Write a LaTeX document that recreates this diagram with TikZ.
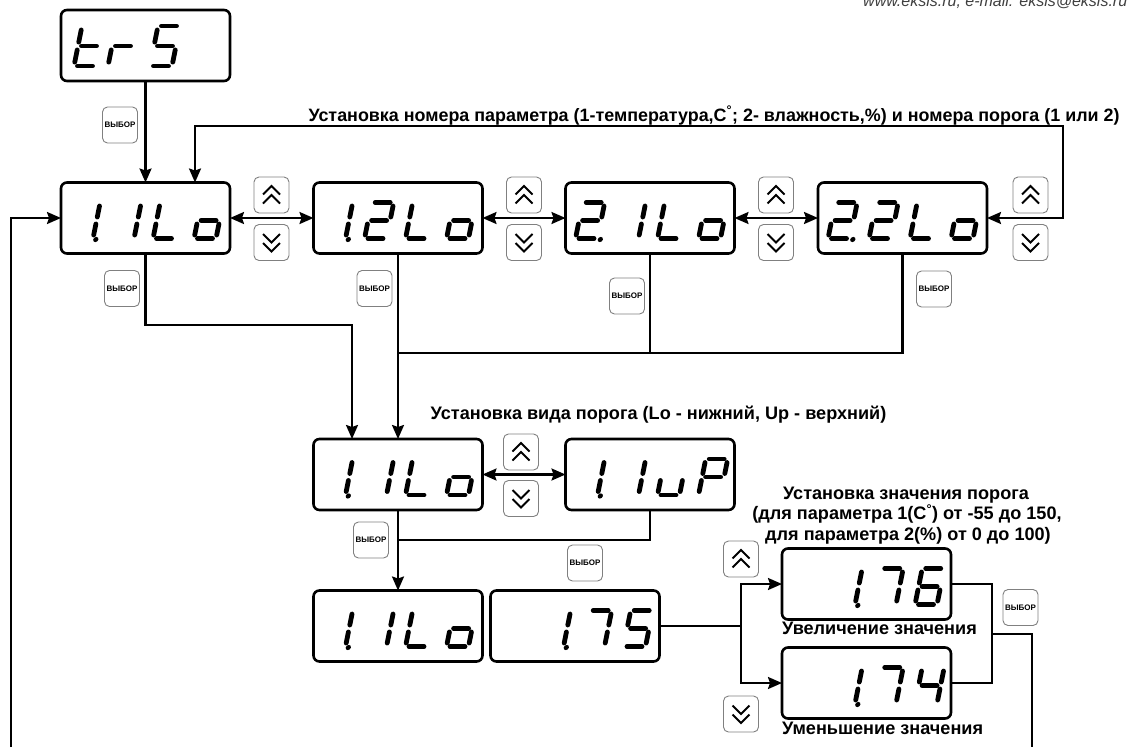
\documentclass[tikz,border=0pt]{standalone}
\usepackage{fontspec}
\setmainfont{Liberation Sans}
\newfontfamily\labfont{Liberation Sans}
\usetikzlibrary{arrows.meta}
% seven-segment pieces (local coords, baseline v=0, top v=-36)
\newcommand\Sa{\draw[segline] (3.5,-36) -- (18.5,-36);}
\newcommand\Sb{\draw[segline] (22,-32.5) -- (22,-21.5);}
\newcommand\Sc{\draw[segline] (22,-14.5) -- (22,-3.5);}
\newcommand\Sd{\draw[segline] (3.5,0) -- (18.5,0);}
\newcommand\Se{\draw[segline] (0,-3.5) -- (0,-14.5);}
\newcommand\Sf{\draw[segline] (0,-21.5) -- (0,-32.5);}
\newcommand\Sg{\draw[segline] (3.5,-18) -- (18.5,-18);}
\newcommand\Sp{\fill (25,1) circle (2.6pt);}
\newcommand\dig[4][]{\begin{scope}[shift={(#2.north west)},shift={(#3,56)},xslant=0.2,#1]#4\end{scope}}
\newcommand\digLo[3]{\dig{#1}{10}{#2}\dig{#1}{51}{#3}\dig{#1}{92}{\Sf\Se\Sd}\dig{#1}{133}{\Sg\Sc\Sd\Se}}
\newcommand\chevup[1]{\begin{scope}[shift={(#1.center)}]\draw[chev] (-8.5,-0.5) -- (0,-9) -- (8.5,-0.5);\draw[chev] (-8.5,8.5) -- (0,0) -- (8.5,8.5);\end{scope}}
\newcommand\chevdn[1]{\begin{scope}[shift={(#1.center)}]\draw[chev] (-8.5,-8.5) -- (0,0) -- (8.5,-8.5);\draw[chev] (-8.5,0.5) -- (0,9) -- (8.5,0.5);\end{scope}}
\begin{document}
\begin{tikzpicture}[x=1pt,y=-1pt,
  disp/.style={draw, line width=2.6pt, rounded corners=6pt, minimum width=169pt, minimum height=71pt, inner sep=0pt, outer sep=0pt},
  btn/.style={draw=black!50, line width=0.9pt, rounded corners=5pt, minimum width=35pt, minimum height=36pt, inner sep=0pt, outer sep=0pt, fill=white},
  vyb/.style={btn, font=\fontsize{8}{9}\selectfont\bfseries},
  conn/.style={line width=2.2pt},
  arr/.style={conn, -{Stealth[length=14pt,width=12pt,inset=2pt]}},
  darr/.style={conn, {Stealth[length=14pt,width=12pt,inset=2pt]}-{Stealth[length=14pt,width=12pt,inset=2pt]}},
  segline/.style={line width=4.8pt, line cap=round},
  chev/.style={line width=2pt},
  lbl/.style={font=\labfont\fontsize{18.1}{21}\selectfont\bfseries, inner sep=0pt}
]
\useasboundingbox[fill=white] (0,0) rectangle (1137,747);
% header (cut at top, as in the source)
\begin{scope}
\clip (0,0) rectangle (1137,747);
\node[font=\itshape\fontsize{16}{18}\selectfont, text=black!75, anchor=base west, inner sep=0pt] (hdr) at (863,6) {www.eksis.ru, e-mail: eksis@eksis.ru};
\end{scope}
% displays
\node[disp] (trs) at (145.5,45.5) {};
\node[disp] (b11) at (145.5,218) {};
\node[disp] (b12) at (398,218) {};
\node[disp] (b21) at (650,218) {};
\node[disp] (b22) at (902.5,218) {};
\node[disp] (m1) at (398,474.5) {};
\node[disp] (m2) at (650,474.5) {};
\node[disp] (l1) at (398,626) {};
\node[disp] (l2) at (575,626) {};
\node[disp] (r1) at (866.5,584) {};
\node[disp] (r2) at (866.5,683) {};
% digits
\dig[yscale=1.11]{trs}{13}{\Sd\Se\Sf\Sg}
\dig[yscale=1.11]{trs}{47}{\Se\Sg}
\dig[yscale=1.11]{trs}{89}{\Sa\Sf\Sg\Sc\Sd}
\digLo{b11}{\Sb\Sc\Sp}{\Sb\Sc}
\digLo{b12}{\Sb\Sc\Sp}{\Sa\Sb\Sg\Se\Sd}
\digLo{b21}{\Sa\Sb\Sg\Se\Sd\Sp}{\Sb\Sc}
\digLo{b22}{\Sa\Sb\Sg\Se\Sd\Sp}{\Sa\Sb\Sg\Se\Sd}
\digLo{m1}{\Sb\Sc\Sp}{\Sb\Sc}
\dig{m2}{10}{\Sb\Sc\Sp}\dig{m2}{51}{\Sb\Sc}\dig{m2}{92}{\Sc\Sd\Se}\dig{m2}{133}{\Sa\Sb\Sf\Sg\Se}
\digLo{l1}{\Sb\Sc\Sp}{\Sb\Sc}
\dig{l2}{51}{\Sb\Sc\Sp}\dig{l2}{92}{\Sa\Sb\Sc}\dig{l2}{133}{\Sa\Sf\Sg\Sc\Sd}
\dig{r1}{51}{\Sb\Sc\Sp}\dig{r1}{92}{\Sa\Sb\Sc}\dig{r1}{133}{\Sa\Sf\Sg\Se\Sd\Sc}
\dig{r2}{51}{\Sb\Sc\Sp}\dig{r2}{92}{\Sa\Sb\Sc}\dig{r2}{133}{\Sf\Sg\Sb\Sc}
% texts
\node[lbl, font=\labfont\fontsize{17.9}{21}\selectfont\bfseries, anchor=base] (t1) at (714,121) {Установка номера параметра (1-температура,C\textsuperscript{°}; 2- влажность,\%) и номера порога (1 или 2)};
\node[lbl, anchor=base] (t2) at (658.5,419) {Установка вида порога (Lo - нижний, Up - верхний)};
\node[lbl, anchor=base] (t3a) at (906,499) {Установка значения порога};
\node[lbl, anchor=base] (t3b) at (907,519.5) {(для параметра 1(C\textsuperscript{°}) от -55 до 150,};
\node[lbl, anchor=base] (t3c) at (908,540) {для параметра 2(\%) от 0 до 100)};
\node[lbl, anchor=base west] (t4) at (782,634) {Увеличение значения};
\node[lbl, anchor=base west] (t5) at (782,734) {Уменьшение значения};
% connectors
\coordinate (fbR) at (1063,126);
\coordinate (fbL) at (195,126);
\draw[darr] (b22.east) -| (fbR) -- (fbL) -- (fbL |- b11.north);
\draw[arr] (trs.south) -- (b11.north);
\coordinate (lb) at (11,747);
\draw[arr] (lb) |- (b11.west);
\draw[darr] (b11.east) -- (b12.west);
\draw[darr] (b12.east) -- (b21.west);
\draw[darr] (b21.east) -- (b22.west);
\coordinate (j1) at (352,325);
\draw[arr] (b11.south) |- (j1) -- (j1 |- m1.north);
\draw[arr] (b12.south) -- (m1.north);
\coordinate (j2) at (398,353);
\draw[conn] (b22.south) |- (j2);
\draw[conn] (b21.south) -- (b21.south |- j2);
\draw[darr] (m1.east) -- (m2.west);
\draw[arr] (m1.south) -- (l1.north);
\coordinate (j3) at (398,540);
\draw[conn] (m2.south) |- (j3);
\coordinate (j4) at (741,626);
\draw[conn] (l2.east) -- (j4);
\draw[arr] (j4) |- (r1.west);
\draw[arr] (j4) |- (r2.west);
\coordinate (j5) at (992,634);
\draw[conn] (r1.east) -| (j5) |- (r2.east);
\coordinate (rb) at (1032,747);
\draw[conn] (j5) -| (rb);
% buttons
\node[vyb] (v0) at (120,125) {ВЫБОР};
\node[vyb] (v1) at (122,288.5) {ВЫБОР};
\node[vyb] (v2) at (374.5,288.5) {ВЫБОР};
\node[vyb] (v3) at (627,296) {ВЫБОР};
\node[vyb] (v4) at (934,289) {ВЫБОР};
\node[vyb] (v5) at (371,540) {ВЫБОР};
\node[vyb] (v6) at (585,563) {ВЫБОР};
\node[vyb] (v7) at (1020.5,607.5) {ВЫБОР};
\node[btn] (u1) at (271.5,195) {}; \node[btn] (d1) at (271.5,242.5) {};
\node[btn] (u2) at (524,195) {}; \node[btn] (d2) at (524,242.5) {};
\node[btn] (u3) at (776,195) {}; \node[btn] (d3) at (776,242.5) {};
\node[btn] (u4) at (1030.5,195) {}; \node[btn] (d4) at (1030.5,242.5) {};
\node[btn] (u5) at (521,452) {}; \node[btn] (d5) at (521,498.5) {};
\node[btn] (u6) at (741,559) {}; \node[btn] (d6) at (741,714) {};
\chevup{u1}\chevdn{d1}\chevup{u2}\chevdn{d2}\chevup{u3}\chevdn{d3}
\chevup{u4}\chevdn{d4}\chevup{u5}\chevdn{d5}\chevup{u6}\chevdn{d6}
\end{tikzpicture}
\end{document}
